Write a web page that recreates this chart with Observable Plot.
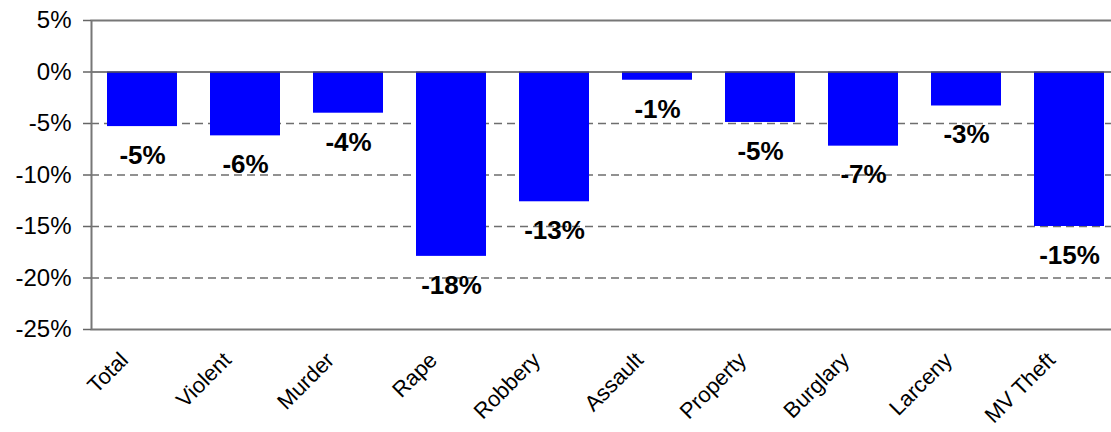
<!DOCTYPE html>
<html>
<head>
<meta charset="utf-8">
<script src="https://cdn.jsdelivr.net/npm/d3@7"></script>
<script src="https://cdn.jsdelivr.net/npm/@observablehq/plot@0.6"></script>
<style>
  html, body { margin: 0; padding: 0; background: #fff; overflow: hidden; }
  #chart svg { display: block; }
</style>
</head>
<body>
<div id="chart"></div>
<script>
const categories = ["Total", "Violent", "Murder", "Rape", "Robbery", "Assault", "Property", "Burglary", "Larceny", "MV Theft"];
const values = [-5.3, -6.2, -4.0, -17.9, -12.6, -0.8, -4.9, -7.2, -3.3, -15.0];
const valueLabels = ["-5%", "-6%", "-4%", "-18%", "-13%", "-1%", "-5%", "-7%", "-3%", "-15%"];
const yTicks = [5, 0, -5, -10, -15, -20, -25];
const gridTicks = [-5, -10, -15, -20];

const data = categories.map((c, i) => ({cat: c, value: values[i], label: valueLabels[i]}));

const chart = Plot.plot({
  width: 1111,
  height: 432,
  marginLeft: 91,
  marginRight: -9,
  marginTop: 20,
  marginBottom: 103,
  style: {fontFamily: "'Liberation Sans', Arial, sans-serif", fontSize: "24px", color: "#000", background: "#fff"},
  x: {domain: categories, paddingInner: 0.32, paddingOuter: 0.155, label: null},
  y: {domain: [-25, 5], label: null},
  marks: [
    Plot.ruleY(gridTicks, {stroke: "#6e6e6e", strokeWidth: 1.3, strokeDasharray: "8,5"}),
    Plot.barY(data, {x: "cat", y: "value", fill: "#0000ff"}),
    Plot.ruleY([0], {stroke: "#555", strokeWidth: 1.5}),
    Plot.frame({stroke: "#777", strokeWidth: 2}),
    Plot.text(data, {x: "cat", y: "value", text: "label", dy: 29, fontWeight: "bold", fontSize: 26, fill: "#000"}),
    Plot.axisY({ticks: yTicks, tickFormat: d => `${d}%`, tickSize: 8, tickPadding: 12, fontSize: 24, stroke: "#666", strokeWidth: 1.5}),
    Plot.axisX({tickSize: 0, tickRotate: -45, tickPadding: 6, fontSize: 22, dx: -18, dy: 21, label: null})
  ]
});
document.getElementById("chart").appendChild(chart);
</script>
</body>
</html>
